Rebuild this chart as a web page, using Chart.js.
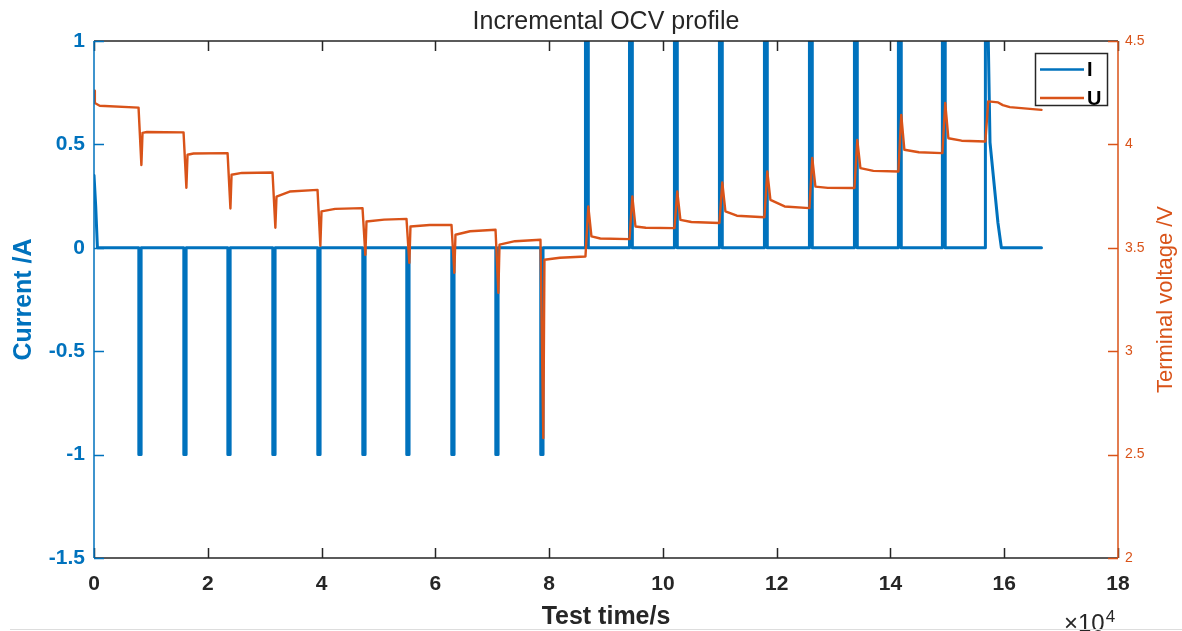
<!DOCTYPE html>
<html>
<head>
<meta charset="utf-8">
<title>Incremental OCV profile</title>
<script src="https://cdn.jsdelivr.net/npm/chart.js@4.4.0/dist/chart.umd.min.js"></script>
<style>
  html, body { margin: 0; padding: 0; background: #fff; }
  #wrap { width: 1182px; height: 631px; position: relative; }
</style>
</head>
<body>
<div id="wrap"><canvas id="ocv-chart"></canvas></div>
<script>
// pulse centres, in seconds
const dischargeTimes = [8080, 15990, 23730, 31630, 39540, 47450, 55180, 63090, 70830, 78730];
const chargeTimes = [86640, 94380, 102280, 110190, 118100, 126010, 133920, 141650, 149380];
const dischargeHalfWidth = 200;
const chargeHalfWidth = 250;

// current at the very start (short decay to rest)
const startTime = [0, 300, 600];
const startCurrent = [0.35, 0.2, 0];
// last charge step: 1 A then CV tail down to 0, then rest till the end
const lastChargeTime = [156690, 157200, 157500, 158900, 159500, 166550];
const lastChargeCurrent = [1, 1, 0.51, 0.12, 0, 0];

// terminal voltage, seconds / volts
const uTime = [
  0, 150, 1000,
  7830, 8330, 8530, 9300,
  15740, 16240, 16440, 17500,
  23480, 23980, 24180, 26000,
  31380, 31880, 32080, 34400,
  39290, 39790, 39990, 42400,
  47200, 47700, 47900, 51000,
  54930, 55430, 55630, 59000,
  62840, 63340, 63540, 66100,
  70580, 71080, 71280, 74000,
  78480, 78980, 79180, 81900,
  86390, 86890, 87440, 89000,
  94130, 94630, 95180, 97000,
  102030, 102530, 103080, 105000,
  109940, 110440, 110990, 113000,
  117850, 118350, 118900, 121400,
  125760, 126260, 126810, 129000,
  133670, 134170, 134720, 137000,
  141400, 141900, 142450, 145000,
  149130, 149630, 150180, 152500,
  156690, 157190, 158930, 159750, 160980, 166550
];
const uVolt = [
  4.26, 4.20, 4.187,
  4.178, 3.90, 4.056, 4.060,
  4.058, 3.79, 3.95, 3.956,
  3.958, 3.69, 3.853, 3.862,
  3.864, 3.597, 3.747, 3.772,
  3.780, 3.51, 3.676, 3.688,
  3.692, 3.466, 3.627, 3.636,
  3.640, 3.427, 3.603, 3.610,
  3.611, 3.379, 3.563, 3.580,
  3.587, 3.282, 3.515, 3.532,
  3.539, 2.58, 3.442, 3.452,
  3.458, 3.70, 3.555, 3.545,
  3.542, 3.748, 3.603, 3.597,
  3.595, 3.772, 3.635, 3.625,
  3.620, 3.816, 3.676, 3.655,
  3.648, 3.869, 3.732, 3.700,
  3.692, 3.934, 3.796, 3.790,
  3.789, 4.022, 3.885, 3.872,
  3.869, 4.143, 3.974, 3.962,
  3.958, 4.200, 4.030, 4.018,
  4.014, 4.208, 4.203, 4.190, 4.180, 4.167
];

const xTicks = [0, 2, 4, 6, 8, 10, 12, 14, 16, 18]; // x 10^4 s
const currentTicks = [-1.5, -1, -0.5, 0, 0.5, 1];
const voltTicks = [2, 2.5, 3, 3.5, 4, 4.5];

const BLUE = '#0072BD';
const ORANGE = '#D95319';
const DARK = '#262626';
const FONT = '"Liberation Sans", Arial, Helvetica, sans-serif';

// build the step waveform for the current
const currentPoints = startTime.map((t, i) => ({ x: t, y: startCurrent[i] }));
dischargeTimes.forEach(t => {
  currentPoints.push({ x: t - dischargeHalfWidth, y: 0 }, { x: t - dischargeHalfWidth, y: -1 },
                     { x: t + dischargeHalfWidth, y: -1 }, { x: t + dischargeHalfWidth, y: 0 });
});
chargeTimes.forEach(t => {
  currentPoints.push({ x: t - chargeHalfWidth, y: 0 }, { x: t - chargeHalfWidth, y: 1 },
                     { x: t + chargeHalfWidth, y: 1 }, { x: t + chargeHalfWidth, y: 0 });
});
currentPoints.push({ x: lastChargeTime[0], y: 0 });
lastChargeTime.forEach((t, i) => currentPoints.push({ x: t, y: lastChargeCurrent[i] }));

const voltagePoints = uTime.map((t, i) => ({ x: t, y: uVolt[i] }));

// MATLAB-like box, inward ticks, title, legend and exponent label
const matlabAxes = {
  id: 'matlabAxes',
  afterDatasetsDraw(chart) {
    const { ctx, chartArea: a, scales } = chart;
    const tl = 10;
    ctx.save();

    // top and bottom axis lines with inward ticks
    ctx.strokeStyle = DARK;
    ctx.lineWidth = 1.5;
    ctx.beginPath();
    ctx.moveTo(a.left, a.top); ctx.lineTo(a.right, a.top);
    ctx.moveTo(a.left, a.bottom); ctx.lineTo(a.right, a.bottom);
    scales.x.ticks.forEach(t => {
      const px = Math.round(scales.x.getPixelForValue(t.value)) + 0.5;
      ctx.moveTo(px, a.bottom); ctx.lineTo(px, a.bottom - tl);
      ctx.moveTo(px, a.top); ctx.lineTo(px, a.top + tl);
    });
    ctx.stroke();

    // left axis
    ctx.strokeStyle = BLUE;
    ctx.beginPath();
    ctx.moveTo(a.left, a.top); ctx.lineTo(a.left, a.bottom);
    scales.y.ticks.forEach(t => {
      const py = Math.round(scales.y.getPixelForValue(t.value)) + 0.5;
      ctx.moveTo(a.left, py); ctx.lineTo(a.left + tl, py);
    });
    ctx.stroke();

    // right axis
    ctx.strokeStyle = ORANGE;
    ctx.beginPath();
    ctx.moveTo(a.right, a.top); ctx.lineTo(a.right, a.bottom);
    scales.y1.ticks.forEach(t => {
      const py = Math.round(scales.y1.getPixelForValue(t.value)) + 0.5;
      ctx.moveTo(a.right, py); ctx.lineTo(a.right - tl, py);
    });
    ctx.stroke();

    // title
    ctx.fillStyle = DARK;
    ctx.font = '25px ' + FONT;
    ctx.textAlign = 'center';
    ctx.textBaseline = 'alphabetic';
    ctx.fillText('Incremental OCV profile', (a.left + a.right) / 2, 29);

    // right axis title, reading bottom to top
    ctx.save();
    ctx.translate(1166, (a.top + a.bottom) / 2);
    ctx.rotate(-Math.PI / 2);
    ctx.fillStyle = ORANGE;
    ctx.font = '22px ' + FONT;
    ctx.textBaseline = 'middle';
    ctx.fillText('Terminal voltage /V', 0, 0);
    ctx.restore();

    // x10^4 exponent
    ctx.fillStyle = DARK;
    ctx.textAlign = 'left';
    ctx.textBaseline = 'alphabetic';
    ctx.font = '24px ' + FONT;
    const baseText = '\u00d710';
    const bx = 1064;
    ctx.fillText(baseText, bx, 631);
    const bw = ctx.measureText(baseText).width;
    ctx.font = '17px ' + FONT;
    ctx.fillText('4', bx + bw + 1, 622);

    // legend
    const lx = 1035.5, ly = 53.5, lw = 72, lh = 52;
    ctx.fillStyle = '#fff';
    ctx.fillRect(lx, ly, lw, lh);
    ctx.strokeStyle = DARK;
    ctx.lineWidth = 1.5;
    ctx.strokeRect(lx, ly, lw, lh);
    [['I', BLUE, 69.5], ['U', ORANGE, 98]].forEach(([name, col, y]) => {
      ctx.strokeStyle = col;
      ctx.lineWidth = 2.5;
      ctx.beginPath();
      ctx.moveTo(1040, y); ctx.lineTo(1084, y);
      ctx.stroke();
      ctx.fillStyle = '#000';
      ctx.font = 'bold 20px ' + FONT;
      ctx.textBaseline = 'middle';
      ctx.fillText(name, 1087, y + 1);
    });

    // faint frame line at the bottom of the picture
    ctx.strokeStyle = '#dddddd';
    ctx.lineWidth = 1;
    ctx.beginPath();
    ctx.moveTo(10, 629.5); ctx.lineTo(1182, 629.5);
    ctx.stroke();

    ctx.restore();
  }
};

const ctx = document.getElementById('ocv-chart').getContext('2d');

new Chart(ctx, {
  type: 'line',
  data: {
    datasets: [
      {
        label: 'U',
        data: voltagePoints,
        yAxisID: 'y1',
        borderColor: ORANGE,
        borderWidth: 2.4,
        order: 0
      },
      {
        label: 'I',
        data: currentPoints,
        yAxisID: 'y',
        borderColor: BLUE,
        borderWidth: 3,
        order: 1
      }
    ]
  },
  options: {
    responsive: true,
    maintainAspectRatio: false,
    animation: false,
    events: [],
    elements: {
      point: { radius: 0 },
      line: { tension: 0, borderCapStyle: 'round', borderJoinStyle: 'round', fill: false }
    },
    layout: { padding: { top: 41 } },
    plugins: {
      legend: { display: false },
      tooltip: { enabled: false },
      title: { display: false }
    },
    scales: {
      x: {
        type: 'linear',
        min: 0,
        max: 180000,
        afterBuildTicks: s => { s.ticks = xTicks.map(v => ({ value: v * 1e4 })); },
        afterFit: s => { s.height = 73; },
        grid: { display: false, drawTicks: false },
        border: { display: false },
        ticks: {
          color: DARK,
          padding: 14,
          maxRotation: 0,
          font: { family: FONT, size: 21, weight: 'bold' },
          callback: v => String(v / 1e4)
        },
        title: {
          display: true,
          text: 'Test time/s',
          color: DARK,
          padding: { top: 0, bottom: 0 },
          font: { family: FONT, size: 25, weight: 'bold', lineHeight: 1.1 }
        }
      },
      y: {
        position: 'left',
        min: -1.5,
        max: 1,
        afterBuildTicks: s => { s.ticks = currentTicks.map(v => ({ value: v })); },
        afterFit: s => { s.width = 94; },
        grid: { display: false, drawTicks: false },
        border: { display: false },
        ticks: {
          color: BLUE,
          padding: 9,
          font: { family: FONT, size: 21, weight: 'bold' },
          callback: v => String(v)
        },
        title: {
          display: true,
          text: 'Current /A',
          color: BLUE,
          padding: { top: 9, bottom: 0 },
          font: { family: FONT, size: 25, weight: 'bold', lineHeight: 1.2 }
        }
      },
      y1: {
        position: 'right',
        min: 2,
        max: 4.5,
        afterBuildTicks: s => { s.ticks = voltTicks.map(v => ({ value: v })); },
        afterFit: s => { s.width = 64; },
        grid: { display: false, drawTicks: false },
        border: { display: false },
        ticks: {
          color: ORANGE,
          padding: 7,
          font: { family: FONT, size: 14 },
          callback: v => String(v)
        }
      }
    }
  },
  plugins: [matlabAxes]
});
</script>
</body>
</html>
